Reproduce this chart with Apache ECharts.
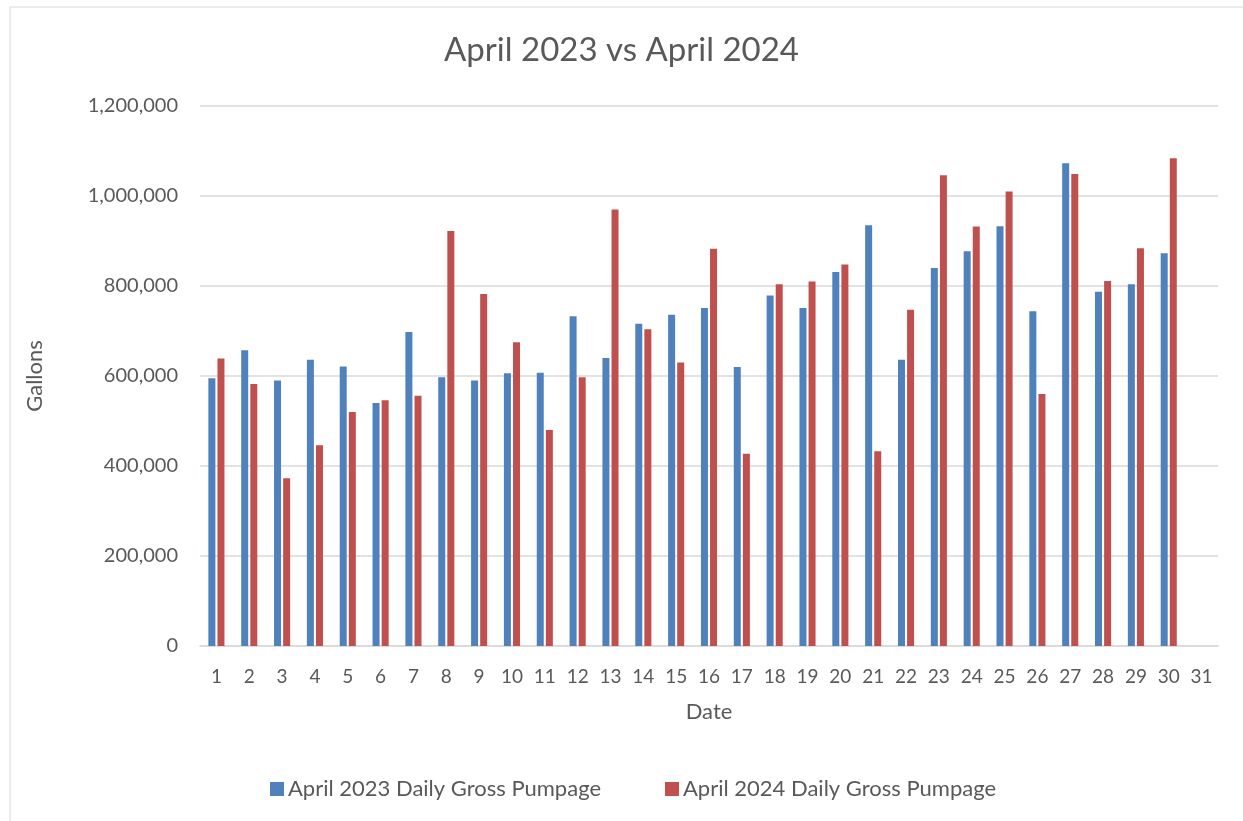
<!DOCTYPE html>
<html>
<head>
<meta charset="utf-8">
<script src="https://cdn.jsdelivr.net/npm/echarts@6/dist/echarts.min.js"></script>
<style>
  html, body { margin: 0; padding: 0; background: #fff; }
  #chart { width: 1243px; height: 821px; }
</style>
</head>
<body>
<div id="chart"></div>
<script>
// days of April (31 shown on the axis, no data for it)
var days = [];
for (var d = 1; d <= 31; d++) days.push(String(d));

// daily gross pumpage, gallons
var pump2023 = [595000, 657000, 590000, 636000, 621000, 540000, 698000, 597000, 590000, 606000,
                607000, 733000, 640000, 716000, 736000, 751000, 620000, 779000, 751000, 831000,
                935000, 636000, 840000, 877000, 933000, 744000, 1073000, 787000, 804000, 873000, null];
var pump2024 = [639000, 582000, 373000, 446000, 520000, 546000, 556000, 922000, 782000, 675000,
                480000, 597000, 970000, 704000, 630000, 883000, 427000, 804000, 810000, 848000,
                433000, 747000, 1046000, 932000, 1010000, 560000, 1049000, 811000, 884000, 1084000, null];

var txt = '#595959';
var font = 'Lato, "Open Sans", sans-serif';

var myChart = echarts.init(document.getElementById('chart'));
myChart.setOption({
  animation: false,
  textStyle: { fontFamily: font, color: txt },
  title: {
    text: 'April 2023 vs April 2024',
    left: 'center',
    top: 29,
    textStyle: { fontSize: 33, fontWeight: 'normal', color: txt, fontFamily: font }
  },
  graphic: [{
    type: 'rect',
    shape: { x: 10, y: 7, width: 1240, height: 820 },
    style: { fill: 'none', stroke: '#d9d9d9', lineWidth: 1 },
    silent: true
  }],
  legend: {
    bottom: 21,
    left: 270,
    padding: 0,
    itemWidth: 14,
    itemHeight: 14,
    itemGap: 64,
    icon: 'rect',
    textStyle: { fontSize: 22, color: txt, fontFamily: font, padding: [0, 0, 0, -1] },
    data: ['April 2023 Daily Gross Pumpage', 'April 2024 Daily Gross Pumpage']
  },
  grid: { left: 200, right: 25, top: 106, bottom: 175 },
  xAxis: {
    type: 'category',
    data: days,
    name: 'Date',
    nameLocation: 'middle',
    nameGap: 55,
    nameTextStyle: { fontSize: 22, color: txt },
    axisLine: { lineStyle: { color: '#d9d9d9', width: 1.5 } },
    axisTick: { show: false },
    axisLabel: { fontSize: 19, color: txt, margin: 21, interval: 0 }
  },
  yAxis: {
    type: 'value',
    min: 0,
    max: 1200000,
    interval: 200000,
    name: 'Gallons',
    nameLocation: 'middle',
    nameGap: 154,
    nameRotate: 90,
    nameTextStyle: { fontSize: 22, color: txt },
    axisLine: { show: false },
    axisTick: { show: false },
    axisLabel: {
      fontSize: 20, color: txt, margin: 22,
      formatter: function (v) { return v.toLocaleString('en-US'); }
    },
    splitLine: { lineStyle: { color: '#d9d9d9', width: 1.5 } }
  },
  series: [
    {
      name: 'April 2023 Daily Gross Pumpage',
      type: 'bar',
      data: pump2023,
      barWidth: 7,
      barGap: '30%',
      itemStyle: { color: '#4f81bd' }
    },
    {
      name: 'April 2024 Daily Gross Pumpage',
      type: 'bar',
      data: pump2024,
      barWidth: 7,
      itemStyle: { color: '#c0504d' }
    }
  ]
});
</script>
</body>
</html>
